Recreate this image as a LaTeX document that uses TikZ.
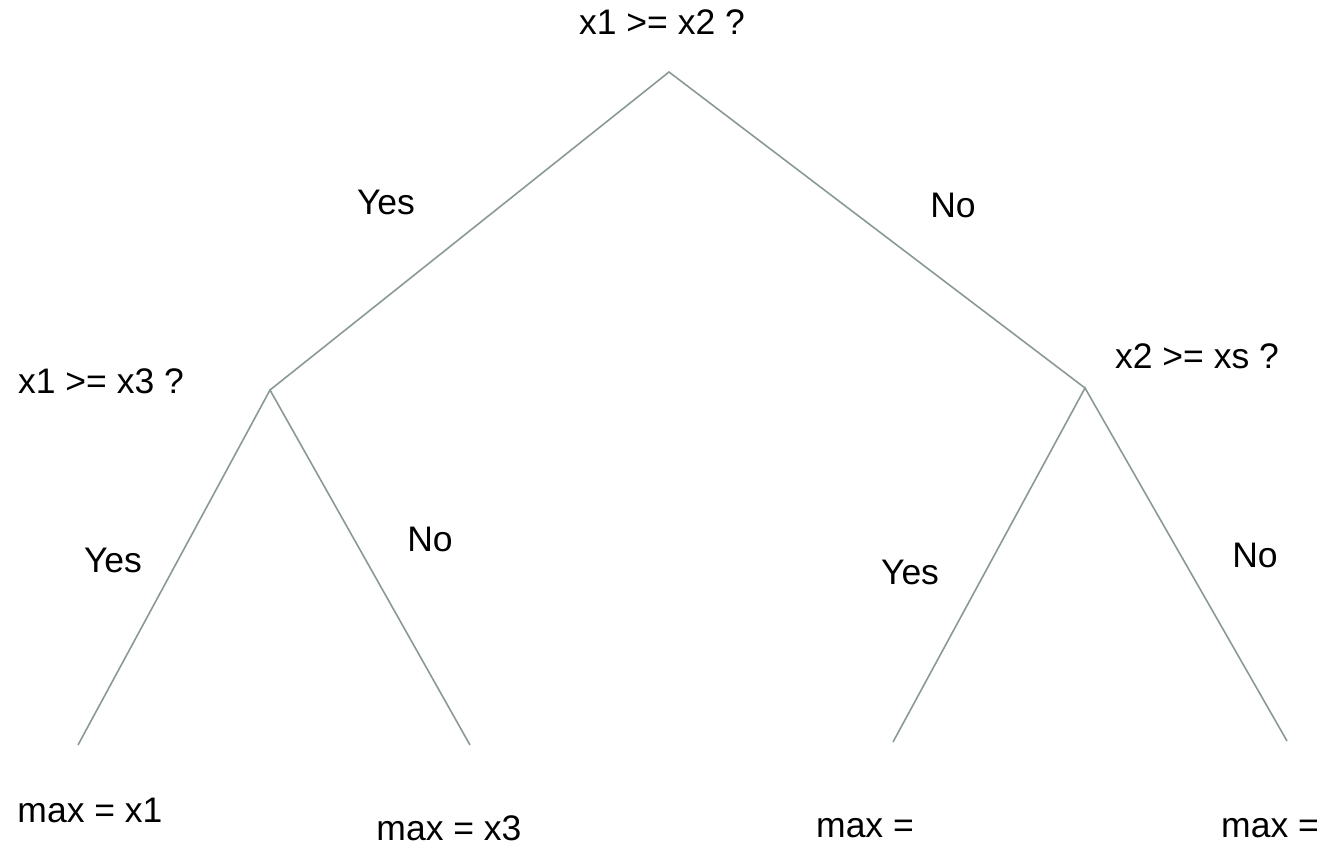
\documentclass[tikz,border=0pt]{standalone}
\usepackage{fontspec}
\setmainfont{Liberation Sans}
\definecolor{edgegray}{HTML}{8A9A93}
\tikzset{
  lbl/.style={inner sep=0pt, font=\fontsize{35.5}{42}\selectfont, text=black},
  edge/.style={draw=edgegray, line width=1.6pt}
}
\begin{document}
\begin{tikzpicture}[x=1pt,y=-1pt]
\useasboundingbox (0,0) rectangle (1329,847);
% junction points
\coordinate (root) at (669,72);
\coordinate (left) at (270,390);
\coordinate (right) at (1085,388);
\coordinate (ll) at (78,745);
\coordinate (lr) at (470,745);
\coordinate (rl) at (893,742);
\coordinate (rr) at (1287,741);
% connectors
\draw[edge] (left) -- (root) -- (right);
\draw[edge] (ll) -- (left) -- (lr);
\draw[edge] (rl) -- (right) -- (rr);
% labels
\node[lbl] (q1) at (662,22) {x1 >= x2 ?};
\node[lbl] (yes1) at (386,202) {Yes};
\node[lbl] (no1) at (953,205) {No};
\node[lbl] (q2) at (101,381) {x1 >= x3 ?};
\node[lbl] (q3) at (1197,356) {x2 >= xs ?};
\node[lbl] (yes2) at (113,560) {Yes};
\node[lbl] (no2) at (430,539) {No};
\node[lbl] (yes3) at (910,572) {Yes};
\node[lbl] (no3) at (1255,555) {No};
\node[lbl] (m1) at (90,810) {max = x1};
\node[lbl] (m2) at (449,828) {max = x3};
\node[lbl] (m3) at (865,828) {max =};
\node[lbl] (m4) at (1270,828) {max =};
\end{tikzpicture}
\end{document}
